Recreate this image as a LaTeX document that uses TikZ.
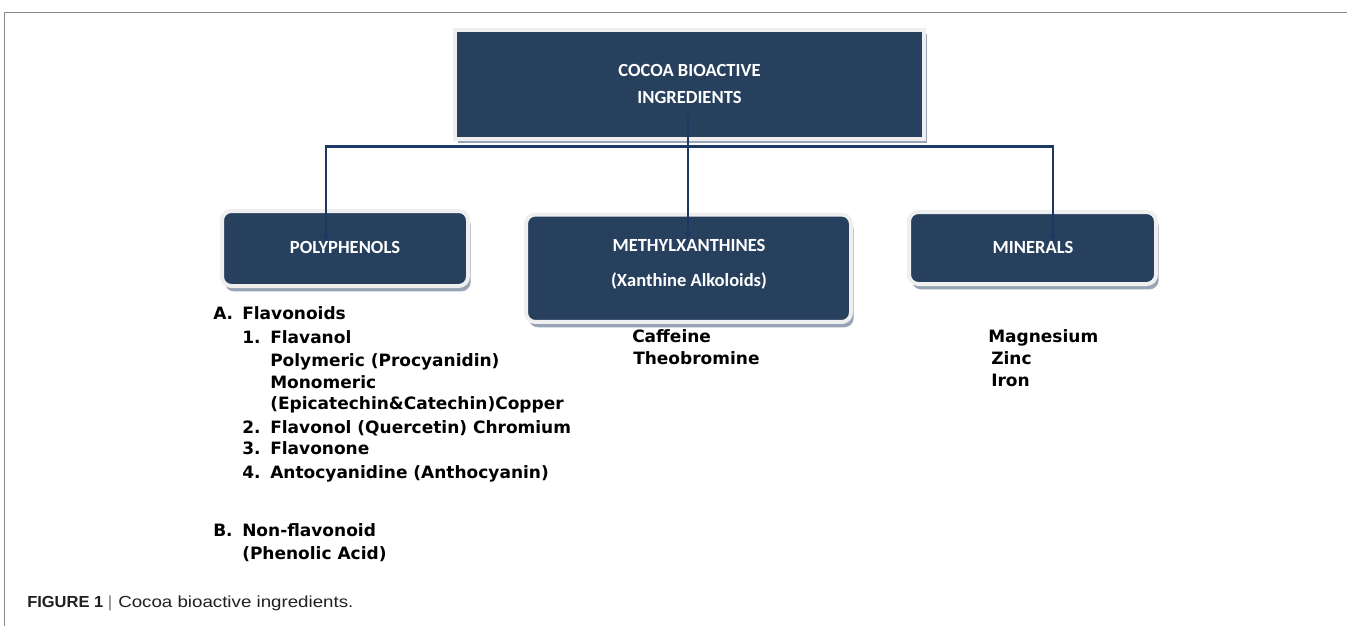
\documentclass[tikz,border=0pt]{standalone}
\usepackage{fontspec}
\usetikzlibrary{arrows.meta,shadows}
\newfontfamily\boxfont{Carlito}
\newfontfamily\bodyfont{DejaVu Sans}
\newfontfamily\capregfont{Liberation Sans}[FakeStretch=1.17]
\newfontfamily\capboldfont{Liberation Sans}[FakeStretch=1.03]
\definecolor{navy}{HTML}{27405E}
\definecolor{rim}{HTML}{EFEFEF}
\definecolor{shade}{HTML}{97A4B5}
\definecolor{linec}{HTML}{1B3962}
\definecolor{framec}{HTML}{8A8A8A}
\definecolor{capc}{HTML}{231F20}
\begin{document}
\begin{tikzpicture}[x=0.75pt,y=-0.75pt,
 panel/.style={fill=navy, draw=rim, line width=3pt, inner sep=0pt},
 topshadow/.style={drop shadow={shadow xshift=2.5pt, shadow yshift=-3pt, opacity=1, fill=shade}},
 rshadow/.style={drop shadow={shadow xshift=2pt, shadow yshift=-4pt, opacity=1, fill=shade}},
 rpanel/.style={panel, rounded corners=7pt, rshadow},
 boxtxt/.style={text=white, font=\boxfont\bfseries\fontsize{13.9}{20.25}\selectfont, inner sep=0pt, align=center},
 body/.style={anchor=base west, inner sep=0pt, font=\bodyfont\bfseries\fontsize{12.75}{15}\selectfont},
 conn/.style={draw=linec, line width=1.9pt, line cap=rect},
 arr/.style={draw=linec, line width=1.5pt, -{Triangle[length=5pt,width=5pt]}},
 captxt/.style={anchor=base west, inner sep=0pt, text=capc},
]
\useasboundingbox (0,0) rectangle (1347,626);
\fill[white] (0,0) rectangle (1347,626);
% frame
\draw[framec, line width=0.9pt] (4.5,626) -- (4.5,12.3) -- (1347,12.3);

% boxes
\node[panel, topshadow, minimum width=351.75pt, minimum height=81.75pt] (top) at (689.5,84.5) {};
\node[rpanel, minimum width=184.5pt, minimum height=56.25pt] (poly) at (345,248.5) {};
\node[rpanel, minimum width=243.75pt, minimum height=80.6pt] (meth) at (688.5,268.25) {};
\node[rpanel, minimum width=185.25pt, minimum height=54pt] (mine) at (1032.5,248) {};

% box texts
\node[boxtxt] (toptxt) at (689.5,83.5) {COCOA BIOACTIVE\\INGREDIENTS};
\node[boxtxt] (polytxt) at (345,247) {POLYPHENOLS};
\node[boxtxt] (methtxt) at (689,245) {METHYLXANTHINES};
\node[boxtxt, anchor=base] (methsub) at (689,286) {(Xanthine Alkoloids)};
\node[boxtxt] (mintxt) at (1033,247) {MINERALS};

% connectors
\coordinate (hub) at (688,115);
\coordinate (barL) at (326,146.5);
\coordinate (barR) at (1053,146.5);
\draw[conn] (barL) -- (barR);
\draw[arr] (hub) -- (hub |- methtxt.north);
\draw[arr] (barL) -- (barL |- polytxt.north);
\draw[arr] (barR) -- (barR |- mintxt.north);

% polyphenols list
\node[body] (la) at (213,319.5) {A.};
\node[body] (laT) at (242,319.5) {Flavonoids};
\node[body] (l1) at (242,343.5) {1.};
\node[body] (l1T) at (270,343.5) {Flavanol};
\node[body] (lpoly) at (270,366) {Polymeric (Procyanidin)};
\node[body] (lmono) at (270,388) {Monomeric};
\node[body] (lepi) at (270,409.5) {(Epicatechin\&Catechin)Copper};
\node[body] (l2) at (242,433) {2.};
\node[body] (l2T) at (270,433) {Flavonol (Quercetin) Chromium};
\node[body] (l3) at (242,454.5) {3.};
\node[body] (l3T) at (270,454.5) {Flavonone};
\node[body] (l4) at (242,478) {4.};
\node[body] (l4T) at (270,478) {Antocyanidine (Anthocyanin)};
\node[body] (lb) at (213,536) {B.};
\node[body] (lbT) at (242,536) {Non-flavonoid};
\node[body] (lphen) at (242,559.5) {(Phenolic Acid)};

% methylxanthines list
\node[body] (caf) at (632,342) {Caffeine};
\node[body] (theo) at (633,364) {Theobromine};

% minerals list
\node[body] (mag) at (988,342) {Magnesium};
\node[body] (zinc) at (991,364) {Zinc};
\node[body] (iron) at (991,386) {Iron};

% caption
\node[captxt, font=\capboldfont\bfseries\fontsize{12}{14}\selectfont] (capA) at (27,607.5) {FIGURE 1};
\node[anchor=base, inner sep=0pt, text=gray, font=\capregfont\fontsize{12}{14}\selectfont] (capbar) at (110,607.5) {|};
\node[captxt, font=\capregfont\fontsize{12}{14}\selectfont] (capB) at (118,607.5) {Cocoa bioactive ingredients.};
\end{tikzpicture}
\end{document}
